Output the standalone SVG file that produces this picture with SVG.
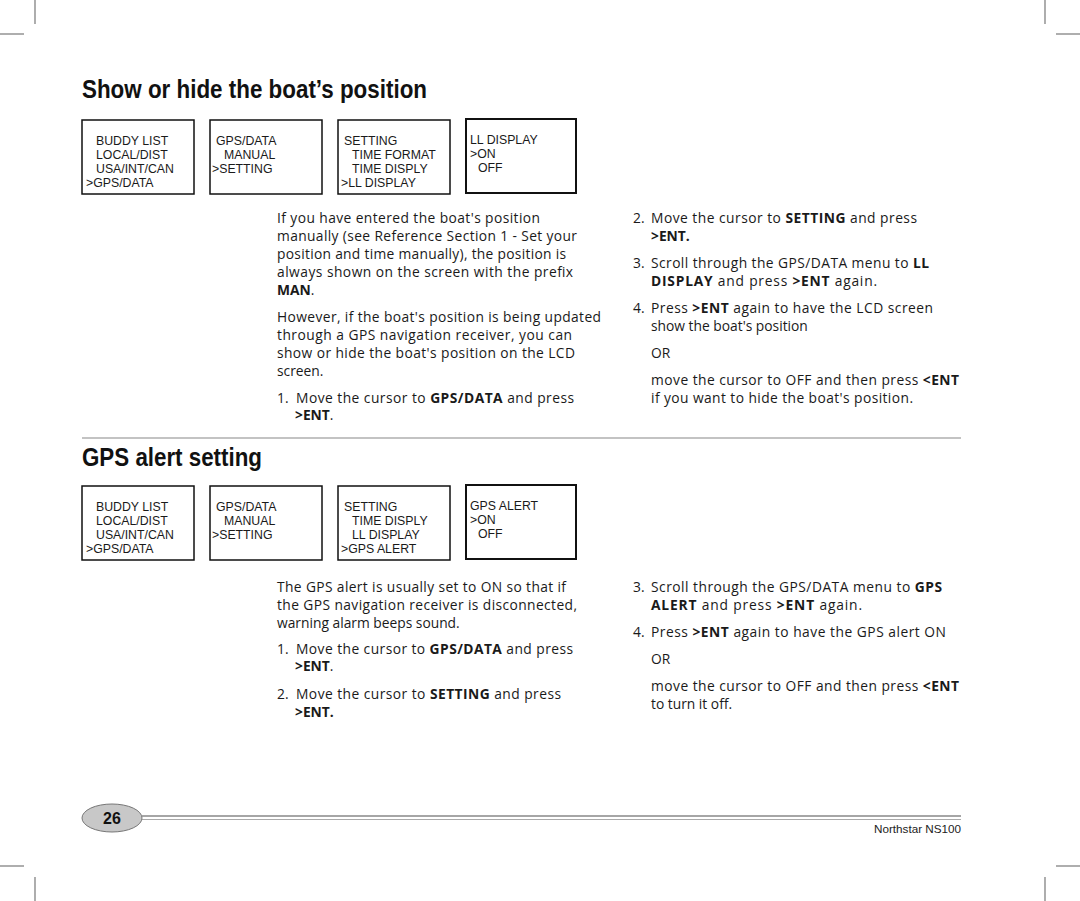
<svg xmlns="http://www.w3.org/2000/svg" width="1080" height="901" viewBox="0 0 1080 901">
<style>
.crop{stroke:#777;stroke-width:1.2;fill:none}
.box{fill:#fff;stroke:#111;stroke-width:1.5}
.box4{fill:#fff;stroke:#111;stroke-width:2}
.lcd{font-family:"Liberation Sans",Arial,sans-serif;font-size:12.3px;fill:#1a1a1a}
.body{font-family:"Open Sans","Noto Sans",sans-serif;font-size:13.8px;fill:#1a1a1a}
.b{font-weight:bold}
.title{font-family:"Liberation Sans",Arial,sans-serif;font-weight:bold;font-size:25px;fill:#111}
.rule{stroke:#888;stroke-width:1.2}
</style>
<g id="cropmarks">
<line class="crop" x1="35" y1="0" x2="35" y2="24"/>
<line class="crop" x1="0" y1="34" x2="24" y2="34"/>
<line class="crop" x1="1045" y1="0" x2="1045" y2="24"/>
<line class="crop" x1="1056" y1="34" x2="1080" y2="34"/>
<line class="crop" x1="35" y1="877" x2="35" y2="901"/>
<line class="crop" x1="0" y1="866" x2="24" y2="866"/>
<line class="crop" x1="1045" y1="877" x2="1045" y2="901"/>
<line class="crop" x1="1056" y1="866" x2="1080" y2="866"/>
</g>
<g id="title1"><text class="title" x="82" y="98" textLength="345" lengthAdjust="spacingAndGlyphs">Show or hide the boat’s position</text></g>
<g id="s1-box1">
<rect class="box" x="82" y="120" width="112" height="74"/>
<text class="lcd" x="96" y="145">BUDDY LIST</text>
<text class="lcd" x="96" y="159">LOCAL/DIST</text>
<text class="lcd" x="96" y="173">USA/INT/CAN</text>
<text class="lcd" x="86" y="187">&gt;GPS/DATA</text>
</g>
<g id="s1-box2">
<rect class="box" x="210" y="120" width="112" height="74"/>
<text class="lcd" x="216" y="145">GPS/DATA</text>
<text class="lcd" x="224" y="159">MANUAL</text>
<text class="lcd" x="212" y="173">&gt;SETTING</text>
</g>
<g id="s1-box3">
<rect class="box" x="338" y="120" width="112" height="74"/>
<text class="lcd" x="344" y="145">SETTING</text>
<text class="lcd" x="352" y="159">TIME FORMAT</text>
<text class="lcd" x="352" y="173">TIME DISPLY</text>
<text class="lcd" x="341" y="187">&gt;LL DISPLAY</text>
</g>
<g id="s1-box4">
<rect class="box4" x="466" y="119" width="110" height="74"/>
<text class="lcd" x="470" y="144">LL DISPLAY</text>
<text class="lcd" x="470" y="158">&gt;ON</text>
<text class="lcd" x="478" y="172">OFF</text>
</g>
<g id="s1-left">
<text class="body" x="277" y="223" textLength="263">If you have entered the boat's position</text>
<text class="body" x="277" y="241" textLength="300">manually (see Reference Section 1 - Set your</text>
<text class="body" x="277" y="259" textLength="289">position and time manually), the position is</text>
<text class="body" x="277" y="277" textLength="296">always shown on the screen with the prefix</text>
<text class="body" x="277" y="295"><tspan class="b">MAN</tspan>.</text>
<text class="body" x="277" y="322" textLength="324">However, if the boat's position is being updated</text>
<text class="body" x="277" y="340" textLength="295">through a GPS navigation receiver, you can</text>
<text class="body" x="277" y="358" textLength="298">show or hide the boat's position on the LCD</text>
<text class="body" x="277" y="376">screen.</text>
<text class="body" x="277" y="403">1.</text>
<text class="body" x="296" y="403" textLength="278">Move the cursor to <tspan class="b">GPS/DATA</tspan> and press</text>
<text class="body" x="295" y="420"><tspan class="b">&gt;ENT</tspan>.</text>
</g>
<g id="s1-right">
<text class="body" x="633" y="223">2.</text>
<text class="body" x="651" y="223" textLength="266">Move the cursor to <tspan class="b">SETTING</tspan> and press</text>
<text class="body b" x="651" y="241">&gt;ENT.</text>
<text class="body" x="633" y="268">3.</text>
<text class="body" x="651" y="268" textLength="278">Scroll through the GPS/DATA menu to <tspan class="b">LL</tspan></text>
<text class="body" x="651" y="286" textLength="226"><tspan class="b">DISPLAY</tspan> and press  <tspan class="b">&gt;ENT</tspan> again.</text>
<text class="body" x="633" y="313">4.</text>
<text class="body" x="651" y="313" textLength="282">Press <tspan class="b">&gt;ENT</tspan> again to have the LCD screen</text>
<text class="body" x="651" y="331">show the boat's position</text>
<text class="body" x="651" y="358">OR</text>
<text class="body" x="651" y="385" textLength="308">move the cursor to OFF and then press <tspan class="b">&lt;ENT</tspan></text>
<text class="body" x="651" y="403" textLength="262">if you want to hide the boat's position.</text>
</g>
<line class="rule" x1="82" y1="438" x2="961" y2="438"/>
<g id="title2"><text class="title" x="82" y="466" textLength="180" lengthAdjust="spacingAndGlyphs">GPS alert setting</text></g>
<g id="s2-box1">
<rect class="box" x="82" y="486" width="112" height="74"/>
<text class="lcd" x="96" y="511">BUDDY LIST</text>
<text class="lcd" x="96" y="525">LOCAL/DIST</text>
<text class="lcd" x="96" y="539">USA/INT/CAN</text>
<text class="lcd" x="86" y="553">&gt;GPS/DATA</text>
</g>
<g id="s2-box2">
<rect class="box" x="210" y="486" width="112" height="74"/>
<text class="lcd" x="216" y="511">GPS/DATA</text>
<text class="lcd" x="224" y="525">MANUAL</text>
<text class="lcd" x="212" y="539">&gt;SETTING</text>
</g>
<g id="s2-box3">
<rect class="box" x="338" y="486" width="112" height="74"/>
<text class="lcd" x="344" y="511">SETTING</text>
<text class="lcd" x="352" y="525">TIME DISPLY</text>
<text class="lcd" x="352" y="539">LL DISPLAY</text>
<text class="lcd" x="341" y="553">&gt;GPS ALERT</text>
</g>
<g id="s2-box4">
<rect class="box4" x="466" y="485" width="110" height="74"/>
<text class="lcd" x="470" y="510">GPS ALERT</text>
<text class="lcd" x="470" y="524">&gt;ON</text>
<text class="lcd" x="478" y="538">OFF</text>
</g>
<g id="s2-left">
<text class="body" x="277" y="592" textLength="289">The GPS alert is usually set to ON so that if</text>
<text class="body" x="277" y="610" textLength="300">the GPS navigation receiver is disconnected,</text>
<text class="body" x="277" y="628">warning alarm beeps sound.</text>
<text class="body" x="277" y="654">1.</text>
<text class="body" x="296" y="654" textLength="277">Move the cursor to <tspan class="b">GPS/DATA</tspan> and press</text>
<text class="body" x="295" y="671"><tspan class="b">&gt;ENT</tspan>.</text>
<text class="body" x="277" y="699">2.</text>
<text class="body" x="296" y="699" textLength="265">Move the cursor to <tspan class="b">SETTING</tspan> and press</text>
<text class="body b" x="295" y="717">&gt;ENT.</text>
</g>
<g id="s2-right">
<text class="body" x="633" y="592">3.</text>
<text class="body" x="651" y="592" textLength="291">Scroll through the GPS/DATA menu to <tspan class="b">GPS</tspan></text>
<text class="body" x="651" y="610" textLength="211"><tspan class="b">ALERT</tspan> and press  <tspan class="b">&gt;ENT</tspan> again.</text>
<text class="body" x="633" y="637">4.</text>
<text class="body" x="651" y="637" textLength="295">Press <tspan class="b">&gt;ENT</tspan> again to have the GPS alert ON</text>
<text class="body" x="651" y="664">OR</text>
<text class="body" x="651" y="691" textLength="308">move the cursor to OFF and then press <tspan class="b">&lt;ENT</tspan></text>
<text class="body" x="651" y="709">to turn it off.</text>
</g>
<g id="footer">
<line x1="142" y1="816" x2="961" y2="816" stroke="#888" stroke-width="1.5"/>
<line x1="142" y1="819.5" x2="961" y2="819.5" stroke="#aaa" stroke-width="1"/>
<ellipse cx="112" cy="818" rx="30" ry="14" fill="#c8c8c8" stroke="#777" stroke-width="1"/>
<text x="112" y="824" text-anchor="middle" font-family="Liberation Sans,Arial,sans-serif" font-weight="bold" font-size="16" fill="#111">26</text>
<text x="961" y="833" text-anchor="end" font-family="Liberation Sans,Arial,sans-serif" font-size="11.5" fill="#222" textLength="87" lengthAdjust="spacingAndGlyphs">Northstar NS100</text>
</g>
</svg>
